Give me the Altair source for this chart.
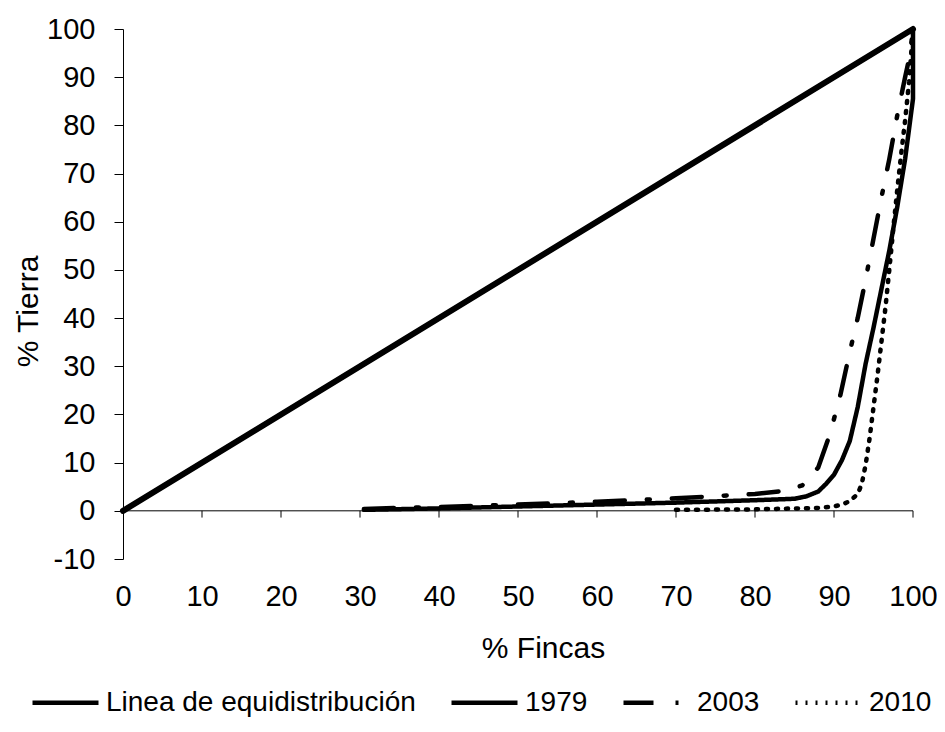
import altair as alt
import pandas as pd

# ---- data ----
series_names = ["Linea de equidistribución", "1979", "2003", "2010"]

equi_x = [0, 100]
equi_y = [0, 100]

x1979 = [30.5, 40, 50, 60, 70, 80, 85, 86.5, 88, 89, 90, 91, 92, 93, 94, 95, 96, 97, 98, 99, 100, 100]
y1979 = [0.2, 0.5, 0.9, 1.3, 1.7, 2.2, 2.5, 3.0, 4.0, 5.6, 7.5, 10.5, 14.5, 21.5, 30.5, 38, 46, 54, 63, 73, 85.5, 100]

x2003 = [30.5, 40, 50, 60, 70, 80, 84, 86, 88, 89.5, 90.8, 92, 93, 94, 95, 96, 97, 98, 99, 99.6, 100]
y2003 = [0.4, 0.8, 1.3, 1.9, 2.6, 3.5, 4.2, 5.3, 9.0, 16, 24, 33, 40, 48, 56.5, 65, 73, 82, 90, 94.5, 100]

x2010 = [70, 80, 88, 90, 91, 92, 93, 93.5, 94, 94.5, 95, 95.5, 96, 96.5, 97, 97.5, 98, 98.5, 99, 99.5, 100]
y2010 = [0.2, 0.3, 0.6, 0.9, 1.3, 2.0, 3.5, 5.5, 9.5, 15, 21.5, 28, 35, 42, 50, 58.5, 66.5, 74, 81, 89, 100]

x_ticks = [0, 10, 20, 30, 40, 50, 60, 70, 80, 90, 100]
x_minor_ticks = [10, 20, 30, 40, 50, 60, 70, 80, 90, 100]
y_ticks = [-10, 0, 10, 20, 30, 40, 50, 60, 70, 80, 90, 100]

rows = []
for name, xs, ys in [
    (series_names[0], equi_x, equi_y),
    (series_names[1], x1979, y1979),
    (series_names[2], x2003, y2003),
    (series_names[3], x2010, y2010),
]:
    for i, (xv, yv) in enumerate(zip(xs, ys)):
        rows.append({"serie": name, "x": xv, "y": yv, "i": i})
df = pd.DataFrame(rows)

FONT = "Liberation Sans"
W, H = 790, 530

xscale = alt.Scale(domain=[0, 100], nice=False)
yscale = alt.Scale(domain=[-10, 100], nice=False)

x_enc = alt.X(
    "x:Q", scale=xscale,
    axis=alt.Axis(values=x_ticks, title="% Fincas", domain=False, ticks=False,
                  grid=False, labelPadding=23, titlePadding=22, titleX=420,
                  labelFlush=False, labelExpr="'' + datum.value",
                  labelFont=FONT, titleFont=FONT, labelFontSize=29, titleFontSize=30,
                  labelColor="black", titleColor="black", titleFontWeight="normal"),
)
y_enc = alt.Y(
    "y:Q", scale=yscale,
    axis=alt.Axis(values=y_ticks, title="% Tierra", grid=False, tickSize=9,
                  labelPadding=19, titlePadding=3, titleY=282,
                  labelExpr="'' + datum.value",
                  labelFont=FONT, titleFont=FONT, labelFontSize=29, titleFontSize=30,
                  labelColor="black", titleColor="black", titleFontWeight="normal",
                  domainColor="black", tickColor="black"),
)

lines = alt.Chart(df).mark_line(color="black", strokeWidth=4.5, strokeCap="round",
                                strokeJoin="round").encode(
    x=x_enc,
    y=y_enc,
    order=alt.Order("i:Q"),
    strokeDash=alt.StrokeDash(
        "serie:N",
        scale=alt.Scale(domain=series_names,
                        range=[[1, 0], [1, 0], [30, 22, 3, 22], [2, 8]]),
        legend=alt.Legend(
            title=None, orient="none", direction="horizontal",
            legendX=-93, legendY=638,
            symbolSize=4356, symbolStrokeWidth=4.5, symbolStrokeColor="black",
            labelFontSize=28, labelFont=FONT, labelColor="black",
            labelOffset=5, columnPadding=26, labelLimit=600,
        ),
    ),
)

equi_df = df[df["serie"] == series_names[0]]
equi_thick = alt.Chart(equi_df).mark_line(color="black", strokeWidth=6, strokeCap="round").encode(
    x="x:Q", y="y:Q", order=alt.Order("i:Q")
)

zero_df = pd.DataFrame({"x": [0], "x2": [100], "y": [0]})
zero_line = alt.Chart(zero_df).mark_rule(color="black", strokeWidth=1).encode(
    x="x:Q", x2="x2:Q", y="y:Q"
)

tick_df = pd.DataFrame({"x": x_minor_ticks})
ticks = alt.Chart(tick_df).mark_rule(color="black", strokeWidth=1).encode(
    x="x:Q", y=alt.datum(0), y2=alt.datum(-1.4)
)

chart = alt.layer(zero_line, ticks, lines, equi_thick).properties(
    width=W, height=H,
    autosize=alt.AutoSizeParams(type="none"),
    padding={"left": 115, "top": 21, "right": 24, "bottom": 165},
).configure(background="white").configure_view(stroke=None)

chart.save("out.html", embed_options={"renderer": "svg", "actions": False})
